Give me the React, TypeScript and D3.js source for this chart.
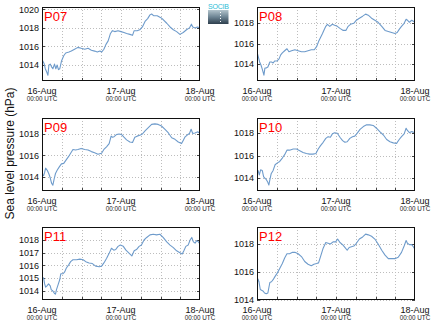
import React from 'react';
import * as d3 from 'd3';

// ---- data (hours since 16-Aug 00:00 UTC, sea level pressure hPa) ----
const stations = ['P07', 'P08', 'P09', 'P10', 'P11', 'P12'];

const P07: [number, number][] = [
  [0, 1014.6], [0.6, 1014.2], [1.0, 1013.6], [1.5, 1013.2], [1.8, 1012.9], [2.1, 1014.0], [2.5, 1014.1],
  [2.9, 1013.8], [3.3, 1013.6], [3.8, 1014.1], [4.2, 1013.6], [4.6, 1014.0], [5.0, 1013.5], [5.4, 1013.6],
  [5.9, 1014.4], [6.6, 1015.0], [7.2, 1015.3], [8.2, 1015.4], [8.9, 1015.5], [9.9, 1015.7], [10.9, 1015.9],
  [11.9, 1015.8], [13.0, 1015.7], [14.0, 1015.8], [15.0, 1015.6], [16.0, 1015.5], [16.8, 1015.4], [17.6, 1015.5],
  [18.1, 1015.4], [18.8, 1015.7], [19.4, 1016.2], [20.1, 1016.6], [20.8, 1017.4], [21.4, 1017.7], [22.1, 1017.6],
  [23.1, 1017.7], [24.0, 1017.6], [24.9, 1017.5], [25.7, 1017.4], [26.7, 1017.3], [27.5, 1017.2], [28.0, 1017.7],
  [28.9, 1017.7], [29.7, 1017.8], [30.5, 1018.1], [31.3, 1018.7], [32.1, 1019.0], [32.8, 1019.4], [33.3, 1019.5],
  [34.0, 1019.3], [35.0, 1019.3], [36.1, 1019.1], [36.8, 1018.9], [37.9, 1018.5], [38.9, 1018.1], [39.9, 1017.8],
  [40.9, 1017.6], [41.9, 1017.3], [42.9, 1017.5], [43.9, 1017.8], [44.8, 1018.0], [45.4, 1018.4], [45.8, 1018.1],
  [46.5, 1018.0], [47.2, 1018.1], [48, 1018.0],
];

const P08: [number, number][] = [
  [0, 1015.2], [0.4, 1014.7], [0.8, 1014.2], [1.2, 1013.9], [1.6, 1013.5], [2.1, 1012.9], [2.4, 1013.6],
  [2.8, 1013.6], [3.3, 1013.7], [3.9, 1014.2], [4.4, 1014.2], [4.9, 1014.1], [5.4, 1014.3], [6.1, 1014.3],
  [6.7, 1014.5], [7.2, 1014.9], [7.7, 1015.1], [8.4, 1015.3], [9.1, 1015.5], [9.7, 1015.2], [10.5, 1015.3],
  [11.5, 1015.4], [12.5, 1015.3], [13.5, 1015.2], [14.5, 1015.2], [15.5, 1015.3], [16.5, 1015.4], [17.4, 1015.4],
  [18.1, 1015.7], [18.7, 1016.2], [19.3, 1016.6], [19.9, 1017.0], [20.3, 1017.3], [20.9, 1017.7], [21.4, 1017.9],
  [22.1, 1017.7], [22.9, 1017.9], [23.6, 1017.8], [24.4, 1017.7], [25.2, 1017.5], [26.2, 1017.3], [27.0, 1017.3],
  [27.7, 1017.7], [28.4, 1017.9], [29.4, 1018.0], [30.2, 1018.3], [31.1, 1018.5], [32.1, 1018.7], [33.0, 1018.9],
  [33.8, 1018.8], [34.8, 1018.5], [35.8, 1018.3], [36.8, 1018.1], [37.9, 1017.7], [38.9, 1017.3], [39.9, 1017.2],
  [40.9, 1017.1], [41.9, 1017.0], [42.6, 1017.1], [43.2, 1017.4], [43.9, 1017.7], [44.7, 1018.0], [45.3, 1018.4],
  [45.7, 1018.3], [46.3, 1018.1], [47.0, 1018.3], [47.5, 1018.2], [48, 1018.1],
];

const P09: [number, number][] = [
  [0, 1014.25], [0.5, 1014.1], [0.8, 1014.4], [1.1, 1014.8], [1.6, 1014.6], [2.1, 1014.25], [2.5, 1013.9],
  [2.9, 1013.4], [3.3, 1013.2], [3.7, 1013.8], [4.1, 1014.3], [4.6, 1014.6], [5.2, 1014.9], [5.9, 1015.2],
  [6.6, 1015.25], [7.4, 1015.6], [8.1, 1015.9], [8.7, 1016.2], [9.4, 1016.55], [10.2, 1016.5], [10.9, 1016.55],
  [11.9, 1016.65], [13.0, 1016.55], [14.0, 1016.5], [15.0, 1016.35], [16.0, 1016.25], [17.0, 1016.1], [18.1, 1016.2],
  [18.8, 1016.55], [19.6, 1016.8], [20.4, 1017.1], [21.0, 1017.8], [21.4, 1017.7], [21.9, 1017.75], [22.6, 1017.95],
  [23.4, 1018.0], [24.2, 1017.95], [24.9, 1017.7], [25.7, 1017.45], [26.7, 1017.25], [27.5, 1017.2], [28.2, 1017.7],
  [28.9, 1017.8], [29.9, 1017.9], [30.5, 1018.0], [31.3, 1018.3], [32.3, 1018.6], [33.3, 1018.9], [34.3, 1018.95],
  [35.3, 1018.9], [36.3, 1018.75], [37.3, 1018.45], [38.4, 1018.1], [39.4, 1017.65], [40.4, 1017.5], [41.4, 1017.25],
  [42.4, 1017.1], [42.9, 1017.4], [43.4, 1017.7], [44.1, 1017.9], [44.8, 1018.05], [45.3, 1018.45], [45.8, 1018.05],
  [46.5, 1018.1], [47.2, 1018.2], [48, 1018.1],
];

const P10: [number, number][] = [
  [0, 1014.5], [0.3, 1014.7], [0.7, 1014.3], [1.1, 1014.75], [1.6, 1014.7], [2.0, 1014.15], [2.4, 1014.0],
  [2.8, 1013.9], [3.2, 1013.7], [3.6, 1013.4], [3.9, 1013.85], [4.3, 1014.4], [4.9, 1014.7], [5.5, 1015.2],
  [6.1, 1015.35], [6.9, 1015.5], [7.7, 1015.8], [8.4, 1016.1], [9.1, 1016.5], [9.9, 1016.5], [11.0, 1016.6],
  [12.0, 1016.6], [13.0, 1016.45], [14.0, 1016.3], [15.0, 1016.2], [16.0, 1016.15], [17.0, 1016.15], [17.9, 1016.2],
  [18.6, 1016.6], [19.3, 1016.9], [20.1, 1017.2], [20.9, 1017.55], [21.6, 1017.7], [22.3, 1017.65], [22.9, 1017.95],
  [23.6, 1018.05], [24.4, 1018.0], [25.2, 1017.65], [26.0, 1017.35], [26.7, 1017.2], [27.4, 1017.25], [28.2, 1017.55],
  [29.0, 1017.7], [29.7, 1017.75], [30.4, 1018.0], [31.3, 1018.35], [32.3, 1018.6], [33.3, 1018.75], [34.3, 1018.75],
  [35.3, 1018.7], [36.3, 1018.45], [37.3, 1018.15], [38.4, 1017.85], [39.4, 1017.45], [40.4, 1017.25], [41.4, 1017.15],
  [42.4, 1017.1], [43.2, 1017.45], [43.9, 1017.7], [44.7, 1017.95], [45.3, 1018.45], [45.7, 1018.25], [46.3, 1018.05],
  [47.0, 1018.15], [48, 1018.05],
];

const P11: [number, number][] = [
  [0, 1015.1], [0.5, 1015.0], [0.8, 1014.55], [1.1, 1014.3], [1.5, 1014.4], [2.0, 1014.55], [2.5, 1014.4],
  [2.8, 1014.1], [3.3, 1014.0], [3.8, 1013.8], [4.1, 1013.75], [4.4, 1014.1], [4.9, 1014.5], [5.4, 1014.9],
  [5.7, 1015.35], [6.4, 1015.35], [6.9, 1015.5], [7.4, 1015.8], [8.1, 1016.05], [8.7, 1016.3], [9.4, 1016.45],
  [10.5, 1016.45], [11.5, 1016.5], [12.5, 1016.45], [13.3, 1016.3], [14.3, 1016.2], [15.3, 1016.15], [16.3, 1015.95],
  [17.4, 1015.9], [18.1, 1015.95], [18.8, 1016.2], [19.6, 1016.55], [20.4, 1016.95], [21.1, 1017.35], [21.8, 1017.2],
  [22.4, 1017.25], [23.1, 1017.5], [23.8, 1017.6], [24.7, 1017.5], [25.5, 1017.2], [26.5, 1016.95], [27.3, 1016.75],
  [28.0, 1017.15], [28.7, 1017.25], [29.5, 1017.5], [30.2, 1017.6], [31.0, 1018.0], [31.8, 1018.2], [32.8, 1018.4],
  [33.8, 1018.45], [34.8, 1018.4], [35.8, 1018.45], [36.8, 1018.2], [37.9, 1017.85], [38.9, 1017.6], [39.9, 1017.4],
  [40.9, 1017.15], [41.9, 1017.0], [42.6, 1016.9], [43.1, 1017.15], [43.7, 1017.5], [44.4, 1017.6], [45.0, 1018.0],
  [45.5, 1018.2], [46.0, 1017.85], [46.5, 1017.75], [47.0, 1017.95], [47.5, 1017.85], [48, 1017.7],
];

const P12: [number, number][] = [
  [0, 1015.05], [0.3, 1015.5], [0.6, 1015.3], [1.0, 1014.75], [1.4, 1014.7], [1.8, 1014.65], [2.3, 1014.5],
  [2.8, 1014.45], [3.3, 1014.5], [3.9, 1015.25], [4.4, 1015.3], [4.9, 1015.45], [5.4, 1015.65], [6.1, 1015.9],
  [6.9, 1016.25], [7.7, 1016.6], [8.4, 1017.0], [9.1, 1017.3], [9.9, 1017.3], [10.8, 1017.4], [11.5, 1017.4],
  [12.5, 1017.3], [13.5, 1017.1], [14.5, 1016.75], [15.5, 1016.55], [16.5, 1016.45], [17.3, 1016.55], [18.1, 1016.6],
  [18.7, 1016.65], [19.3, 1017.1], [20.1, 1017.7], [20.9, 1018.1], [21.6, 1018.05], [22.3, 1018.0], [23.1, 1018.15],
  [23.9, 1018.15], [24.5, 1018.35], [25.2, 1018.1], [26.0, 1017.95], [26.7, 1017.75], [27.4, 1017.55], [28.0, 1017.75],
  [28.7, 1017.8], [29.4, 1017.85], [30.2, 1018.05], [31.1, 1018.35], [32.1, 1018.5], [33.0, 1018.7], [33.8, 1018.65],
  [34.8, 1018.55], [35.8, 1018.35], [36.8, 1018.0], [37.9, 1017.55], [38.9, 1017.2], [39.9, 1016.95], [40.9, 1016.95],
  [41.9, 1016.95], [42.9, 1017.05], [43.9, 1017.4], [44.7, 1017.85], [45.3, 1018.25], [45.7, 1018.05], [46.3, 1017.95],
  [47.0, 1017.95], [47.5, 1017.8], [48, 1017.6],
];

const series = [P07, P08, P09, P10, P11, P12];

const yDomains: [number, number][] = [
  [1012.28, 1020.25],
  [1012.33, 1019.6],
  [1012.66, 1019.5],
  [1012.87, 1019.36],
  [1013.29, 1019.02],
  [1014.0, 1019.21],
];

const yTicks: number[][] = [
  [1014, 1016, 1018, 1020],
  [1014, 1016, 1018],
  [1014, 1016, 1018],
  [1014, 1016, 1018],
  [1014, 1015, 1016, 1017, 1018],
  [1014, 1016, 1018],
];

const xDomain: [number, number] = [0, 48];
const xLabelHours = [0, 24, 48];
const xTickLabels = ['16-Aug', '17-Aug', '18-Aug'];
const xSubLabel = '00:00 UTC';
const gridHours = [6, 12, 18, 24, 30, 36, 42];
const yAxisTitle = 'Sea level pressure (hPa)';
const logoText = 'SOCIB';

// ---- layout ----
const W = 434;
const H = 327;
const colX: [number, number][] = [[42, 200], [257, 415]];
const rowY: [number, number][] = [[7, 81], [118, 191], [227, 300]];
const FONT = '"Liberation Sans", Arial, Helvetica, sans-serif';
const LINE = '#6e9bcb';

function Panel({ idx }: { idx: number }) {
  const col = idx % 2;
  const row = Math.floor(idx / 2);
  const [x0, x1] = colX[col];
  const [y0, y1] = rowY[row];
  const x = d3.scaleLinear().domain(xDomain).range([x0, x1]);
  const y = d3.scaleLinear().domain(yDomains[idx]).range([y1, y0]);
  const line = d3
    .line<[number, number]>()
    .x((d) => x(d[0]))
    .y((d) => y(d[1]));
  const clipId = `clip-${idx}`;
  return (
    <g>
      <defs>
        <clipPath id={clipId}>
          <rect x={x0} y={y0} width={x1 - x0} height={y1 - y0} />
        </clipPath>
      </defs>
      {gridHours.map((h) => (
        <line
          key={'gv' + h}
          x1={Math.round(x(h)) + 0.5}
          x2={Math.round(x(h)) + 0.5}
          y1={y0}
          y2={y1}
          stroke="#bdbdbd"
          strokeWidth={1}
          strokeDasharray="1,2"
        />
      ))}
      {yTicks[idx].map((t) => (
        <line
          key={'gh' + t}
          x1={x0}
          x2={x1}
          y1={Math.round(y(t)) + 0.5}
          y2={Math.round(y(t)) + 0.5}
          stroke="#bdbdbd"
          strokeWidth={1}
          strokeDasharray="1,2"
        />
      ))}
      {gridHours.map((h) => (
        <line
          key={'tb' + h}
          x1={Math.round(x(h)) + 0.5}
          x2={Math.round(x(h)) + 0.5}
          y1={y1}
          y2={y1 - 3}
          stroke="#444"
          strokeWidth={1}
        />
      ))}
      {yTicks[idx].map((t) => (
        <g key={'ty' + t}>
          <line x1={x0} x2={x0 + 3} y1={Math.round(y(t)) + 0.5} y2={Math.round(y(t)) + 0.5} stroke="#444" />
          <line x1={x1} x2={x1 - 3} y1={Math.round(y(t)) + 0.5} y2={Math.round(y(t)) + 0.5} stroke="#444" />
        </g>
      ))}
      <path
        d={line(series[idx]) || ''}
        fill="none"
        stroke={LINE}
        strokeWidth={1.1}
        strokeLinejoin="round"
        clipPath={`url(#${clipId})`}
      />
      <rect
        x={x0 + 0.5}
        y={y0 + 0.5}
        width={x1 - x0 - 1}
        height={y1 - y0 - 1}
        fill="none"
        stroke="#111"
        strokeWidth={1}
      />
      <text x={x0 + 2} y={y0 + 14} fill="#ff0000" fontSize={13} fontFamily={FONT}>
        {stations[idx]}
      </text>
      {yTicks[idx].map((t) => (
        <text
          key={'yl' + t}
          x={x0 - 3}
          y={y(t) + 3.2}
          textAnchor="end"
          fontSize={9}
          fill="#111"
          fontFamily={FONT}
        >
          {t}
        </text>
      ))}
      {xLabelHours.map((h, i) => (
        <g key={'xl' + h}>
          <text x={x(h)} y={y1 + 12.5} textAnchor="middle" fontSize={9} fill="#111" fontFamily={FONT}>
            {xTickLabels[i]}
          </text>
          <text x={x(h)} y={y1 + 20} textAnchor="middle" fontSize={6.3} fill="#222" fontFamily={FONT}>
            {xSubLabel}
          </text>
        </g>
      ))}
    </g>
  );
}

export default function App() {
  return (
    <svg
      width={W}
      height={H}
      viewBox={`0 0 ${W} ${H}`}
      style={{ position: 'absolute', left: 0, top: 0, background: '#fff' }}
    >
      <defs>
        <linearGradient id="logoGrad" x1="0" y1="0" x2="0" y2="1">
          <stop offset="0%" stopColor="#b3c4cc" />
          <stop offset="50%" stopColor="#6d8493" />
          <stop offset="100%" stopColor="#2e3f4d" />
        </linearGradient>
      </defs>
      <rect x={0} y={0} width={W} height={H} fill="#fff" />
      {stations.map((s, i) => (
        <Panel key={s} idx={i} />
      ))}
      <text
        transform="translate(13.5,153.5) rotate(-90)"
        textAnchor="middle"
        fontSize={12}
        fill="#111"
        fontFamily={FONT}
      >
        {yAxisTitle}
      </text>
      <text x={208} y={9.3} fontSize={7} fill="#2bbcd6" fontFamily={FONT} letterSpacing={-0.2}>
        {logoText}
      </text>
      <rect x={208} y={10} width={20.5} height={14} fill="url(#logoGrad)" />
      {[12, 15, 18, 21].map((yy) => (
        <rect key={yy} x={220} y={yy} width={1} height={1} fill="#fff" />
      ))}
    </svg>
  );
}
